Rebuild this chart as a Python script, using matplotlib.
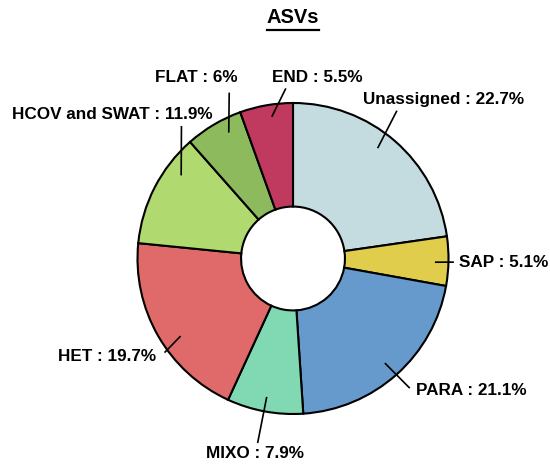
import numpy as np
import matplotlib.pyplot as plt

plt.rcParams['font.family'] = ['Liberation Sans', 'DejaVu Sans']

# data (clockwise from 12 o'clock)
names = ['Unassigned', 'SAP', 'PARA', 'MIXO', 'HET', 'HCOV and SWAT', 'FLAT', 'END']
values = [22.7, 5.1, 21.1, 7.9, 19.7, 11.9, 6, 5.5]
colors = ['#c4dcdf', '#e0cd4b', '#6699cc', '#80d9b2', '#e06969',
          '#b0da6f', '#8cba5d', '#c0395e']

# leader line layout: angle offset from slice middle (deg) and radius, start / end
start_off = [3.4, -0.5, -0.5, -0.3, 4.8, -9.5, -3.6, -1.4]
start_rad = [0.894, 0.913, 0.895, 0.906, 0.878, 0.896, 0.909, 0.922]
end_off = [5.8, -0.3, 0.2, -0.4, 6.4, -22.8, -9.6, -7.5]
end_rad = [1.162, 1.035, 1.122, 1.208, 1.024, 1.114, 1.143, 1.095]
# text offset from line end in pixels (x right, y up) and alignment
txt_dx = [-34, 5, 6.7, -2.5, -8.3, 31, 8, -14.3]
txt_dy = [10.7, -0.5, -2.8, -11, -4.2, 11, 15.5, 10.8]
txt_ha = ['left', 'left', 'left', 'center', 'right', 'right', 'right', 'left']

W, H = 550, 466
cx, cy, R = 293, 258.5, 155.5   # pie centre and radius in pixels

fig = plt.figure(figsize=(W / 100, H / 100), dpi=100)
ax = fig.add_axes([0, 0, 1, 1])

ax.pie(values, colors=colors, startangle=90, counterclock=False, radius=1,
       wedgeprops=dict(width=0.666, edgecolor='black', linewidth=1.5))

ax.set_xlim(-cx / R, (W - cx) / R)
ax.set_ylim(-(H - cy) / R, cy / R)
ax.set_aspect('equal')
ax.axis('off')

total = sum(values)
cum = 0
for i, v in enumerate(values):
    mid = 90 - (cum + v / 2) / total * 360
    cum += v
    a0 = np.deg2rad(mid + start_off[i])
    a1 = np.deg2rad(mid + end_off[i])
    x0, y0 = start_rad[i] * np.cos(a0), start_rad[i] * np.sin(a0)
    x1, y1 = end_rad[i] * np.cos(a1), end_rad[i] * np.sin(a1)
    ax.plot([x0, x1], [y0, y1], color='black', lw=1.2, solid_capstyle='butt')
    ax.text(x1 + txt_dx[i] / R, y1 + txt_dy[i] / R, f'{names[i]} : {v:g}%',
            ha=txt_ha[i], va='center', fontsize=12.3, fontweight='bold', color='black')

title = fig.text(293 / W, 1 - 17.5 / H, 'ASVs', ha='center', va='center',
                 fontsize=14.5, fontweight='bold', color='black')
fig.canvas.draw()
bb = title.get_window_extent()
uy = H - 29.5
fig.add_artist(plt.Line2D([bb.x0 / W, bb.x1 / W], [uy / H, uy / H],
                          transform=fig.transFigure, color='black', lw=1.6))

fig.savefig('out.png', dpi=100)
